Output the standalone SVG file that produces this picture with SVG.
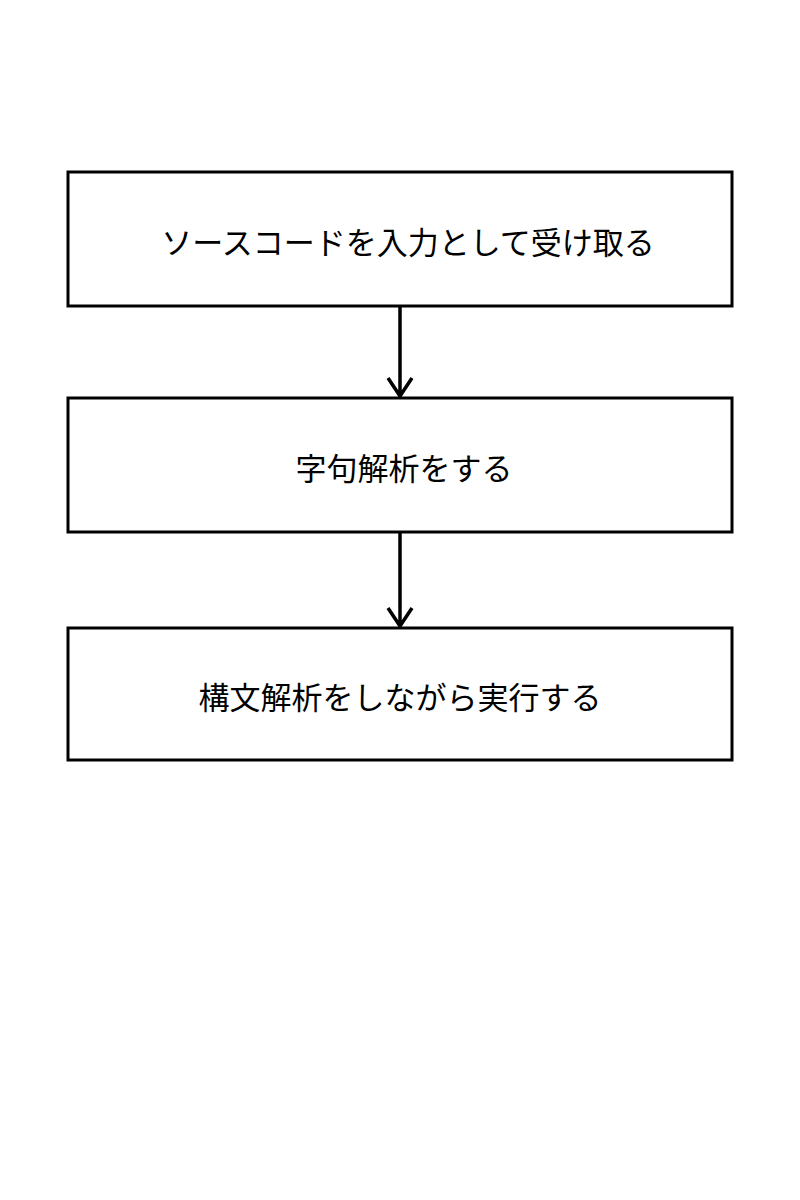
<svg xmlns="http://www.w3.org/2000/svg" width="800" height="1200" viewBox="0 0 800 1200">
<style>
rect{fill:#fff;stroke:#000;stroke-width:3}
text{font-family:"Noto Sans CJK JP",sans-serif;font-size:31px;text-anchor:middle;dominant-baseline:central;fill:#000}
.c{stroke:#000;stroke-width:3.5;fill:none}
</style>
<rect x="0" y="0" width="800" height="1200" style="stroke:none"/>
<g id="n1"><rect x="68" y="172" width="664" height="134"/><text x="408" y="240">ソースコードを入力として受け取る</text></g>
<g id="n2"><rect x="68" y="398" width="664" height="134"/><text x="404" y="466">字句解析をする</text></g>
<g id="n3"><rect x="68" y="628" width="664" height="132"/><text x="400" y="695">構文解析をしながら実行する</text></g>
<g id="connectors">
<path class="c" d="M400 306V396M388 378L400 396L412 378"/>
<path class="c" d="M400 532V626M388 608L400 626L412 608"/>
</g>
</svg>
